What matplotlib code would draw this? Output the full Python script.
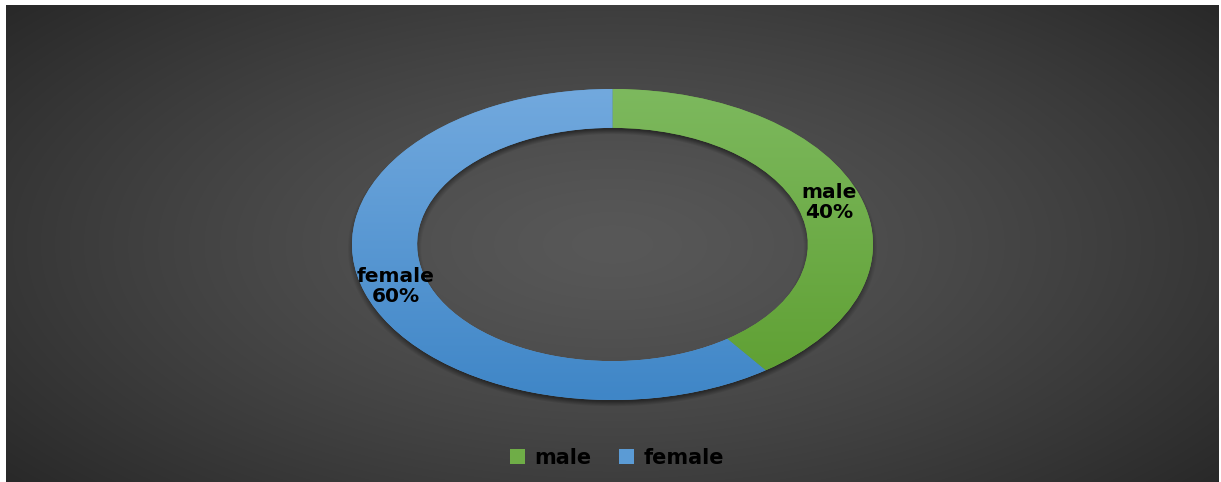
import numpy as np
import matplotlib
matplotlib.use("Agg")
import matplotlib.pyplot as plt
from matplotlib.colors import LinearSegmentedColormap

# Data
categories = ["male", "female"]
shares = [40, 60]
base_colors = ["#6fad47", "#5b9bd5"]
top_colors = ["#7db95e", "#72a9de"]
bottom_colors = ["#5d9e30", "#3f86c7"]

W, H = 1221, 482
fig = plt.figure(figsize=(W / 100, H / 100), dpi=100, facecolor="white")

# Ring geometry in figure pixels (x from left, y from top)
cx, cy = 612.5, 244.5
rx, ry = 260.5, 155.5
hole = 0.75

# Background panel: dark radial gradient with a soft drop shadow under the ring
x0, x1, y0, y1 = 6, 1219, 5, 482
jj, ii = np.meshgrid(np.arange(x0, x1) + 0.5, np.arange(y0, y1) + 0.5)
d = np.sqrt(((jj - cx) / 640.0) ** 2 + ((ii - cy) / 300.0) ** 2)
val = 88 - 48 * np.clip(d / 1.25, 0, 1) ** 1.3
u = (jj - cx) / rx
v = (ii - (cy + 4)) / ry
r = np.sqrt(u ** 2 + v ** 2)
s = 0.035
ring_soft = np.clip((1.0 - r) / s + 0.5, 0, 1) * np.clip((r - hole) / s + 0.5, 0, 1)
val = val * (1 - 0.45 * ring_soft)
bg = np.dstack([val, val, val]) / 255.0

ax_bg = fig.add_axes([x0 / W, 1 - y1 / H, (x1 - x0) / W, (y1 - y0) / H])
ax_bg.imshow(bg, aspect="auto", interpolation="bilinear")
ax_bg.set_axis_off()

# Doughnut axes stretched so the unit circle becomes the ring ellipse
ax = fig.add_axes([(cx - rx) / W, 1 - (cy + ry) / H, 2 * rx / W, 2 * ry / H])
ax.set_axis_off()
wedges, _ = ax.pie(shares, colors=base_colors, startangle=90, counterclock=False,
                   radius=1.0, wedgeprops=dict(width=1 - hole, linewidth=0))
ax.set_xlim(-1, 1)
ax.set_ylim(-1, 1)
ax.set_aspect("auto")

grad = np.linspace(1, 0, 256).reshape(-1, 1)
for w, ct, cb in zip(wedges, top_colors, bottom_colors):
    cmap = LinearSegmentedColormap.from_list("g", [cb, ct])
    im = ax.imshow(grad, cmap=cmap, extent=[-1, 1, -1, 1], aspect="auto",
                   origin="upper", zorder=w.get_zorder() + 0.1)
    im.set_clip_path(w)

# Data labels at the middle of each segment
total = sum(shares)
start = 90.0
for name, val_ in zip(categories, shares):
    sweep = 360.0 * val_ / total
    mid = np.deg2rad(start - sweep / 2)
    rr = (1 + hole) / 2
    ax.text(rr * np.cos(mid), rr * np.sin(mid), f"{name}\n{val_ / total:.0%}",
            ha="center", va="center", fontsize=14.5, fontweight="bold",
            color="black", linespacing=1.08, zorder=10)
    start -= sweep

leg = fig.legend(wedges, categories, loc="center", bbox_to_anchor=(617 / W, 1 - 458 / H),
                 ncol=2, frameon=False, prop=dict(size=15, weight="bold"),
                 handlelength=0.75, handleheight=0.75, handletextpad=0.45,
                 columnspacing=1.3)
for t in leg.get_texts():
    t.set_color("black")

fig.savefig("out.png", dpi=100, facecolor="white")
